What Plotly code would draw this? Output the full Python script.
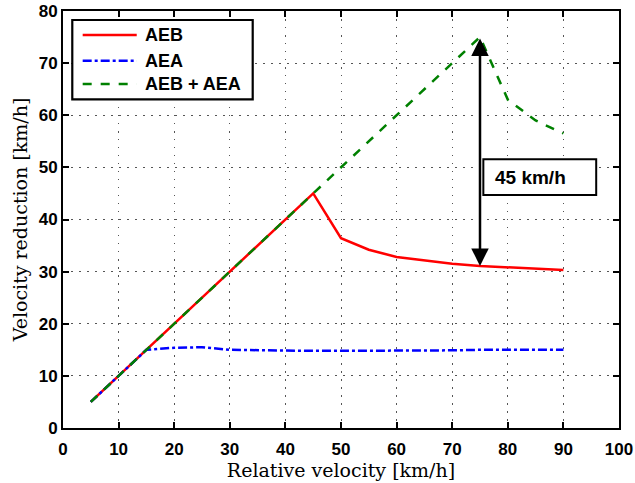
import plotly.graph_objects as go

speed = [5, 10, 15, 20, 25, 30, 35, 40, 45, 50, 55, 60, 65, 70, 75, 80, 85, 90]
aeb = [5, 10, 15, 20, 25, 30, 35, 40, 45, 36.4, 34.2, 32.8, 32.1, 31.5, 31.1, 30.8, 30.5, 30.3]
aea = [5, 10, 15, 15.4, 15.5, 15.0, 14.9, 14.8, 14.8, 14.8, 14.8, 14.9, 14.9, 14.9, 15.0, 15.0, 15.0, 15.0]
combined = [5, 10, 15, 20, 25, 30, 35, 40, 45, 50, 55, 60, 65, 70, 75, 63, 59, 56.5]

series_names = ["AEB", "AEA", "AEB + AEA"]
series_values = [aeb, aea, combined]
series_colors = ["#ff0000", "#0000ff", "#008000"]
series_dash = ["solid", "dashdot", "dash"]

arrow_x = 75
arrow_top = 75
arrow_bottom = 31.1
label_text = "45 km/h"

fig = go.Figure()
for name, vals, col, dash in zip(series_names, series_values, series_colors, series_dash):
    fig.add_trace(go.Scatter(x=speed, y=vals, mode="lines", name=name, showlegend=False,
                             line=dict(color=col, width=2.5, dash=dash)))

# Double-headed arrow
fig.add_annotation(x=arrow_x, y=arrow_bottom, ax=arrow_x, ay=arrow_top,
                   xref="x", yref="y", axref="x", ayref="y", text="",
                   showarrow=True, arrowhead=2, arrowsize=1.4, arrowwidth=2.5,
                   arrowside="end+start", arrowcolor="black",
                   startarrowhead=2, startarrowsize=1.4)
# Label box
fig.add_shape(type="rect", xref="x", yref="y", x0=75.6, x1=95.9, y0=44.7, y1=51.55,
              line=dict(color="black", width=2), fillcolor="white", layer="above")
fig.add_annotation(x=77.3, y=48.15, xref="x", yref="y", text="<b>" + label_text + "</b>",
                   showarrow=False, xanchor="left", yanchor="middle",
                   font=dict(family="Liberation Sans, Arial", size=19, color="black"))

# Legend drawn manually (MATLAB style)
fig.add_shape(type="rect", xref="x domain", yref="y domain", x0=0.0167, x1=0.3412,
              y0=0.7882, y1=0.9784, line=dict(color="black", width=2.2),
              fillcolor="white", layer="above")
row_y = [0.9424, 0.8808, 0.8249]
for name, col, dash, ry in zip(series_names, series_colors, series_dash, row_y):
    fig.add_shape(type="line", xref="x domain", yref="y domain", x0=0.0354, x1=0.1326,
                  y0=ry, y1=ry, line=dict(color=col, width=2.5, dash=dash), layer="above")
    fig.add_annotation(x=0.1439, y=ry, xref="x domain", yref="y domain",
                       text="<b>" + name + "</b>", showarrow=False,
                       xanchor="left", yanchor="middle",
                       font=dict(family="Liberation Sans, Arial", size=18, color="black"))

axis_common = dict(showline=True, linecolor="black", linewidth=2, mirror="ticks",
                   ticks="inside", ticklen=6, tickwidth=2, tickcolor="black",
                   showgrid=True, gridcolor="#555555", gridwidth=1, griddash="1.5px,6.5px",
                   zeroline=False, automargin=False,
                   tickfont=dict(family="Liberation Sans, Arial", size=17, color="black", weight="bold"))

fig.update_xaxes(range=[0, 100], dtick=10, **axis_common, ticklabelstandoff=5,
                 title=dict(text="Relative velocity [km/h]", standoff=2,
                            font=dict(family="DejaVu Serif", size=19, color="black")))
fig.update_yaxes(range=[0, 80], dtick=10, **axis_common,
                 title=dict(text="Velocity reduction [km/h]", standoff=6,
                            font=dict(family="DejaVu Serif", size=19, color="black")))

fig.update_layout(
    width=635, height=483,
    margin=dict(l=63, r=16, t=11, b=55),
    plot_bgcolor="white", paper_bgcolor="white",
    showlegend=False,
)

fig.write_html("out.html")
